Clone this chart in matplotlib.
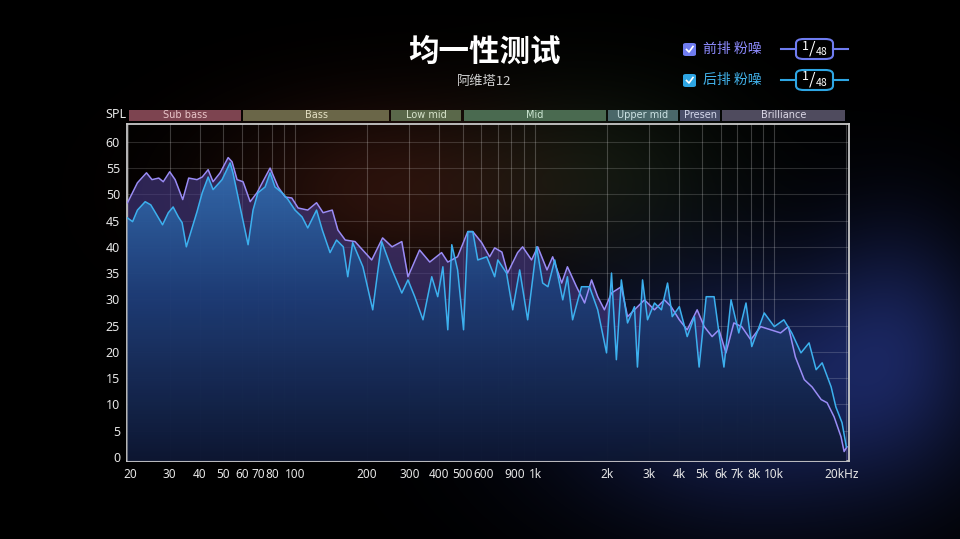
import numpy as np
import matplotlib
matplotlib.use("Agg")
import matplotlib.pyplot as plt
from matplotlib.patches import Rectangle, FancyBboxPatch
from matplotlib.lines import Line2D
from matplotlib.transforms import ScaledTranslation

plt.rcParams['font.family'] = ['Noto Sans CJK SC', 'DejaVu Sans']

# front row pink noise (purple)
front_hz = [20, 22, 24, 25.3, 27, 28.2, 30, 31.6, 34, 36, 39, 41, 43.4, 45.5, 48.7, 52.6, 54.6, 57.3,
            60.7, 65, 69.4, 73, 78.7, 85, 91, 97, 103, 113, 123, 131, 143, 151, 162, 178, 196, 209,
            232, 254, 279, 296, 331, 365, 409, 434, 477, 526, 552, 601, 649, 681, 730, 771, 849, 891,
            971, 1030, 1126, 1189, 1297, 1370, 1495, 1616, 1728, 1833, 1955, 2093, 2300, 2441, 2609,
            2874, 3162, 3479, 3712, 4015, 4331, 4766, 5100, 5502, 5878, 6285, 6780, 7311, 7977, 8776,
            9655, 10620, 11450, 12250, 13340, 14380, 15690, 16610, 17770, 18990, 19560, 20100]
front_db = [48.4, 52.2, 54.1, 52.8, 53.1, 52.4, 54.3, 52.8, 49.0, 53.1, 52.8, 53.3, 54.7, 52.4, 54.1,
            57.0, 56.2, 52.8, 52.4, 48.6, 50.3, 52.2, 55.0, 51.4, 49.5, 49.3, 47.4, 47.0, 48.4, 46.5,
            47.0, 43.2, 41.3, 41.0, 38.9, 37.5, 41.7, 40.0, 41.0, 34.3, 39.4, 37.1, 38.9, 37.1, 38.1,
            42.9, 42.9, 40.8, 38.1, 39.8, 39.0, 35.0, 38.9, 40.0, 37.5, 40.0, 35.6, 38.1, 33.1, 36.2,
            32.4, 29.3, 33.7, 30.5, 28.0, 31.2, 32.4, 26.7, 28.0, 29.9, 28.0, 29.9, 28.6, 26.1, 24.2,
            28.0, 24.8, 22.9, 24.2, 19.8, 25.5, 24.8, 22.3, 24.8, 24.2, 23.6, 24.8, 19.0, 14.7, 13.3,
            10.9, 10.3, 7.6, 3.8, 1.0, 1.9]

# rear row pink noise (cyan)
rear_hz = [20, 21, 22, 23.7, 25, 26, 28, 29.6, 31, 32.6, 33.8, 35.2, 37.3, 39, 41, 43.4, 45.5, 49.6,
           53.6, 55.1, 59, 63.7, 66.8, 70, 75, 78.7, 82.5, 88.3, 93.5, 100, 107, 113, 123, 130, 140,
           149, 159, 166, 174, 192, 211, 230, 254, 279, 296, 316, 342, 372, 394, 414, 434, 451, 477,
           505, 526, 552, 579, 631, 681, 702, 763, 810, 866, 935, 1019, 1080, 1136, 1213, 1310, 1370,
           1440, 1568, 1694, 1833, 1995, 2093, 2193, 2300, 2441, 2609, 2685, 2820, 2958, 3162, 3381,
           3586, 3751, 4015, 4331, 4642, 4856, 5198, 5608, 5878, 6164, 6600, 7110, 7620, 8054, 9080,
           10000, 10960, 11830, 12920, 13970, 14950, 15840, 17270, 18070, 19170, 19980]
rear_db = [45.5, 44.8, 47.0, 48.6, 48.0, 46.7, 44.2, 46.5, 47.6, 45.7, 44.6, 40.0, 43.8, 46.7, 50.3,
           53.3, 50.9, 52.8, 56.0, 54.1, 47.6, 40.4, 47.0, 50.3, 51.4, 54.1, 51.4, 50.3, 49.0, 47.0,
           45.7, 43.6, 47.0, 43.2, 38.9, 41.3, 40.0, 34.3, 40.8, 36.2, 28.0, 41.0, 35.6, 31.2, 33.7,
           30.5, 26.1, 34.3, 30.5, 36.2, 24.2, 40.4, 35.6, 24.2, 42.9, 42.9, 37.5, 38.1, 34.3, 37.5,
           35.0, 28.0, 35.6, 26.1, 40.0, 33.1, 32.4, 37.5, 29.9, 34.3, 26.1, 32.4, 32.4, 28.0, 19.8,
           35.0, 18.5, 33.7, 25.5, 28.6, 17.1, 33.7, 26.1, 29.3, 28.0, 33.1, 26.7, 28.6, 22.9, 26.7,
           17.1, 30.5, 30.5, 23.6, 17.1, 29.9, 23.6, 29.3, 21.0, 27.4, 24.8, 26.1, 23.6, 19.8, 21.7,
           16.6, 17.9, 13.3, 9.5, 6.5, 1.9]

xtick_vals = [20, 30, 40, 50, 60, 70, 80, 100, 200, 300, 400, 500, 600, 900, 1000,
              2000, 3000, 4000, 5000, 6000, 7000, 8000, 10000, 20000]
xtick_labels = ['20', '30', '40', '50', '60', '70', '80', '100', '200', '300', '400', '500', '600',
                '900', '1k', '2k', '3k', '4k', '5k', '6k', '7k', '8k', '10k', '20kHz']
grid_x = [20, 30, 40, 50, 60, 70, 80, 90, 100, 200, 300, 400, 500, 600, 700, 800, 900, 1000,
          2000, 3000, 4000, 5000, 6000, 7000, 8000, 9000, 10000, 20000]
# small horizontal nudges (pixels) for crowded tick labels
label_nudge = {'20': 3, '600': 2, '900': -9, '1k': 1, '8k': 3, '20kHz': -5}

bands = ['Sub bass', 'Bass', 'Low mid', 'Mid', 'Upper mid', 'Presen', 'Brilliance']
band_edges = [20, 60, 250, 500, 2000, 4000, 6000, 20000]
band_colors = ['#7d4450', '#6a6648', '#5a684a', '#4a6a50', '#4a6769', '#4a4f6a', '#4f4b5e']
band_text = ['#e8c4c8', '#e4e0c4', '#d8e4cc', '#cce6d2', '#cce2e4', '#d4d8ec', '#dcd8e6']

W, H = 960, 539
fig = plt.figure(figsize=(9.6, 5.39), dpi=100, facecolor='black')

# background glows
bg_ax = fig.add_axes([0, 0, 1, 1], zorder=-10)
yy, xx = np.mgrid[0:H, 0:W]
img = np.zeros((H, W, 3))
def glow(cx, cy, sx, sy, col, k):
    g = np.exp(-(((xx - cx) / sx) ** 2 + ((yy - cy) / sy) ** 2))
    for i in range(3):
        img[:, :, i] += g * col[i] * k
glow(390, 190, 170, 90, (0.30, 0.12, 0.08), 0.55)
glow(600, 170, 130, 90, (0.10, 0.17, 0.10), 0.45)
glow(760, 390, 200, 130, (0.12, 0.18, 0.45), 0.75)
glow(900, 330, 80, 120, (0.10, 0.14, 0.35), 0.5)
bg_ax.imshow(np.clip(img, 0, 1), aspect='auto', extent=[0, 1, 0, 1])
bg_ax.axis('off')

ax = fig.add_axes([127 / W, 78 / H, 722 / W, 337 / H])
ax.set_facecolor('none')
ax.set_xscale('log')
ax.set_xlim(19.9, 20500)
ax.set_ylim(-0.8, 63.4)

for gx in grid_x:
    ax.axvline(gx, color='white', alpha=0.22, lw=0.8, zorder=1)
for gy in range(5, 65, 5):
    ax.axhline(gy, color='white', alpha=0.16, lw=0.8, zorder=1)

# fills
ax.fill_between(front_hz, front_db, -1, color='#4a3d8c', alpha=0.6, lw=0, zorder=2)
rear_poly = ax.fill_between(rear_hz, rear_db, -1, facecolor='none', edgecolor='none', zorder=3)
grad = np.linspace(1, 0, 256).reshape(-1, 1)
cmap = matplotlib.colors.LinearSegmentedColormap.from_list('b', ['#0c1630', '#1e3e78', '#3a7cc2'])
im = ax.imshow(grad, cmap=cmap, aspect='auto', extent=[0, 1, 0, 1], transform=ax.transAxes,
               alpha=0.95, zorder=3, origin='upper')
im.set_clip_path(rear_poly.get_paths()[0], ax.transData)

ax.plot(front_hz, front_db, color='#9a8cf6', lw=1.1, zorder=4)
ax.plot(rear_hz, rear_db, color='#3cb0ee', lw=1.1, zorder=5)

for s in ax.spines.values():
    s.set_color('#c8c8c8')
    s.set_linewidth(1.3)
ax.set_xticks(xtick_vals)
ax.set_xticklabels(xtick_labels)
ax.xaxis.set_minor_locator(matplotlib.ticker.NullLocator())
ax.set_yticks(range(0, 61, 5))
ax.tick_params(length=0, colors='#e6e6e6', labelsize=9)
ax.tick_params(axis='x', pad=5, labelsize=8.5)
ax.tick_params(axis='y', pad=5)
for lab in ax.get_xticklabels() + ax.get_yticklabels():
    lab.set_fontfamily('Noto Sans')
for lab in ax.get_xticklabels():
    dx = label_nudge.get(lab.get_text(), 0)
    if dx:
        lab.set_transform(lab.get_transform() + ScaledTranslation(dx / 100, 0, fig.dpi_scale_trans))

# band bar
for i, name in enumerate(bands):
    lo, hi = band_edges[i], band_edges[i + 1]
    r = Rectangle((lo * 1.01, 1.009), hi * 0.99 - lo * 1.01, 0.034,
                  transform=ax.get_xaxis_transform(), facecolor=band_colors[i],
                  edgecolor='none', clip_on=False)
    ax.add_patch(r)
    ax.text(np.sqrt(lo * hi), 1.026, name, transform=ax.get_xaxis_transform(),
            ha='center', va='center', fontsize=7, color=band_text[i], family='DejaVu Sans')
fig.text(116 / W, 1 - 114 / H, 'SPL', ha='center', va='center', color='#e6e6e6', fontsize=9,
         family='Noto Sans')

# titles
fig.text(484 / W, 1 - 52 / H, '均一性测试', ha='center', va='center', color='white',
         fontsize=22, fontweight='bold')
fig.text(484 / W, 1 - 82 / H, '阿维塔12', ha='center', va='center', color='#d0d0d0', fontsize=9.5)

# legend
for row_y, label, col, tcol in [(49, '前排 粉噪', '#6f7cf0', '#8e8cff'),
                               (80, '后排 粉噪', '#2ea6e4', '#42b2ea')]:
    fig.patches.append(FancyBboxPatch((683 / W, 1 - (row_y + 7) / H), 13 / W, 13 / H,
                                      boxstyle='round,pad=0,rounding_size=0.003',
                                      transform=fig.transFigure, facecolor=col, edgecolor='none'))
    fig.lines.append(Line2D([686.5 / W, 689 / W, 693 / W],
                            [1 - (row_y + 0.5) / H, 1 - (row_y + 3) / H, 1 - (row_y - 2.5) / H],
                            transform=fig.transFigure, color='white', lw=1.2))
    fig.text(703 / W, 1 - row_y / H, label, ha='left', va='center', color=tcol, fontsize=10)
    fig.lines.append(Line2D([781 / W, 796 / W], [1 - row_y / H] * 2, transform=fig.transFigure,
                            color=col, lw=1.5))
    fig.lines.append(Line2D([833 / W, 848 / W], [1 - row_y / H] * 2, transform=fig.transFigure,
                            color=col, lw=1.5))
    fig.patches.append(FancyBboxPatch((796 / W, 1 - (row_y + 10) / H), 37 / W, 20 / H,
                                      boxstyle='round,pad=0,rounding_size=0.008',
                                      transform=fig.transFigure, facecolor='none',
                                      edgecolor=col, lw=1.5))
    fig.text(805 / W, 1 - (row_y - 3) / H, '1', ha='center', va='center', color='white', fontsize=9)
    fig.text(812 / W, 1 - row_y / H, '/', ha='center', va='center', color='white', fontsize=12)
    fig.text(822 / W, 1 - (row_y + 3) / H, '48', ha='center', va='center', color='white', fontsize=7.5)

fig.savefig('out.png', dpi=100, facecolor='black')
